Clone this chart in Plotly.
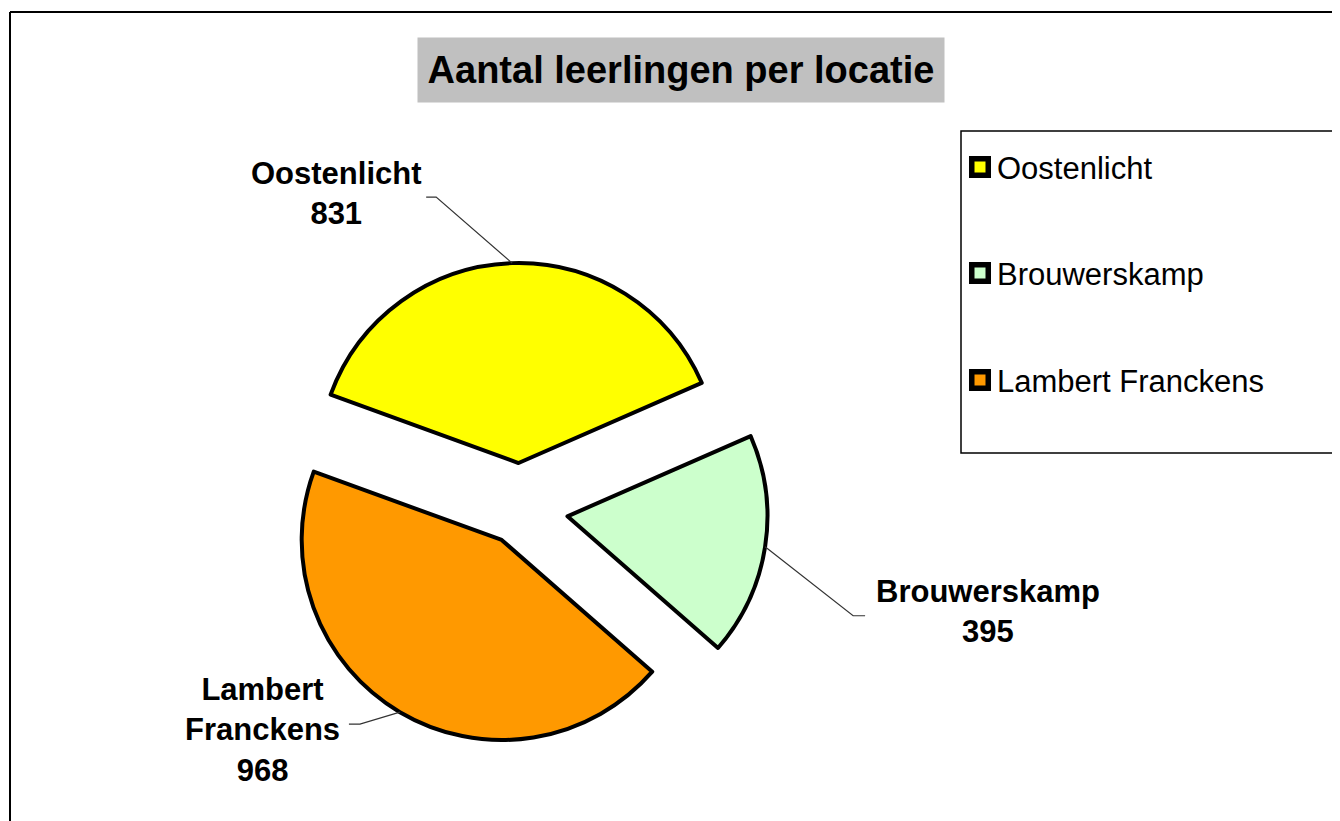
import math
import plotly.graph_objects as go

# ---- data ----
categories = ["Oostenlicht", "Brouwerskamp", "Lambert Franckens"]
values = [831, 395, 968]
colors = ["#FFFF00", "#CCFFCC", "#FF9900"]
title_text = "Aantal leerlingen per locatie"
label_texts = ["Oostenlicht<br>831", "Brouwerskamp<br>395", "Lambert<br>Franckens<br>968"]

# ---- layout constants (page pixels) ----
OFF = 8                    # default body margin of the html page
W, H = 1340 - OFF, 821 - OFF
FONT = "Liberation Sans, Arial, sans-serif"
CX, CY = 520, 509          # pie centre
R = 200                    # pie radius
PULLS = [0.23, 0.24, 0.18]
ROT = -70                  # start angle of first slice (clockwise from 12 o'clock)
half = R * (1 + max(PULLS))

def px(x):
    return (x - OFF) / W

def py(y):
    return 1 - (y - OFF) / H

fig = go.Figure()
fig.add_trace(go.Pie(
    labels=categories, values=values, sort=False, direction="clockwise",
    rotation=ROT, pull=PULLS,
    marker=dict(colors=colors, line=dict(color="black", width=4)),
    textinfo="none", hoverinfo="label+value+percent", showlegend=False,
    domain=dict(x=[px(CX - half), px(CX + half)], y=[py(CY + half), py(CY - half)]),
))

shapes = []
annotations = []

# chart border (left & top visible)
shapes.append(dict(type="line", xref="paper", yref="paper", x0=px(10), x1=px(10), y0=py(12), y1=0,
                   line=dict(color="black", width=2)))
shapes.append(dict(type="line", xref="paper", yref="paper", x0=px(10), x1=1, y0=py(12), y1=py(12),
                   line=dict(color="black", width=2)))

# title
annotations.append(dict(text="<b>%s</b>" % title_text, xref="paper", yref="paper",
                        x=px(681), y=py(70), xanchor="center", yanchor="middle", showarrow=False,
                        font=dict(family=FONT, size=38, color="black"),
                        bgcolor="#C0C0C0", width=512, height=50, borderpad=7))

# data labels with leader lines computed from slice angles
total = sum(values)
label_offsets = [  # leader elbow / end offsets from anchor, label centre
    dict(elbow=(-76, -66), end=(-86, -66), text=(336, 193)),
    dict(elbow=(88, 69), end=(100, 69), text=(988, 611)),
    dict(elbow=(-40, 12), end=(-51, 12), text=(263, 730)),
]
cum = 0.0
for i, v in enumerate(values):
    mid = ROT + 360.0 * (cum + v / 2) / total
    cum += v
    a = math.radians(mid)
    dist = R * (1 + PULLS[i])
    ax_ = CX + dist * math.sin(a)
    ay_ = CY - dist * math.cos(a)
    o = label_offsets[i]
    ex, ey = ax_ + o["elbow"][0], ay_ + o["elbow"][1]
    fx, fy = ax_ + o["end"][0], ay_ + o["end"][1]
    shapes.append(dict(type="path", xref="paper", yref="paper",
                       path="M %f,%f L %f,%f L %f,%f" % (px(ax_), py(ay_), px(ex), py(ey), px(fx), py(fy)),
                       line=dict(color="#333333", width=1.2)))
    annotations.append(dict(text="<b>%s</b>" % label_texts[i], xref="paper", yref="paper",
                            x=px(o["text"][0]), y=py(o["text"][1]), xanchor="center", yanchor="middle",
                            showarrow=False, align="center",
                            font=dict(family=FONT, size=31, color="black")))

# legend box
shapes.append(dict(type="rect", xref="paper", yref="paper", x0=px(961), x1=px(1339), y0=py(453), y1=py(131),
                   line=dict(color="black", width=1.5), fillcolor="white", layer="below"))
leg_y = [167, 273, 380]
for i, name in enumerate(categories):
    y = leg_y[i]
    shapes.append(dict(type="rect", xref="paper", yref="paper", x0=px(969), x1=px(991),
                       y0=py(y + 11), y1=py(y - 11), fillcolor="black", line=dict(width=0)))
    shapes.append(dict(type="rect", xref="paper", yref="paper", x0=px(974.5), x1=px(985.5),
                       y0=py(y + 5.5), y1=py(y - 5.5), fillcolor=colors[i], line=dict(width=0)))
    annotations.append(dict(text=name, xref="paper", yref="paper", x=px(995), y=py(y + 1),
                            xanchor="left", yanchor="middle", showarrow=False,
                            font=dict(family=FONT, size=31, color="black")))

fig.update_layout(
    width=W, height=H, margin=dict(l=0, r=0, t=0, b=0),
    paper_bgcolor="white", plot_bgcolor="white",
    shapes=shapes, annotations=annotations, showlegend=False,
)
fig.write_html("out.html")
